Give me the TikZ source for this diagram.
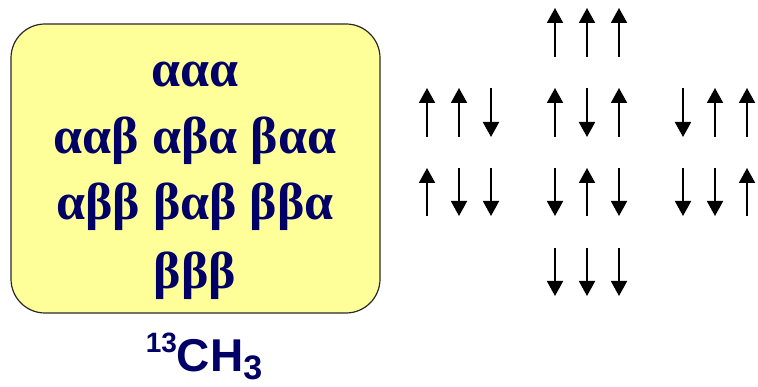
\documentclass[tikz,border=0pt]{standalone}
\usepackage{fontspec}
\setmainfont{Liberation Serif}
\newfontfamily\arialfont{Liberation Sans}
\usetikzlibrary{arrows.meta}
\definecolor{navy}{RGB}{0,0,102}
\definecolor{boxfill}{RGB}{255,255,153}
\definecolor{boxline}{RGB}{40,40,40}
\begin{document}
\begin{tikzpicture}[x=1pt,y=-1pt,
  spin/.style={line width=2pt,-{Triangle[width=16pt,length=15pt]}},
  greek/.style={text=navy,font=\fontsize{52}{52}\selectfont\bfseries,inner sep=0pt,anchor=base},
  statebox/.style={draw=boxline,line width=1.2pt,fill=boxfill,rounded corners=34pt}]
\useasboundingbox (0,0) rectangle (758,387);
\node[statebox,minimum width=369pt,minimum height=289pt,inner sep=0pt] (box) at (195.5,168.5) {};
\node[greek] (l1) at (195,87) {ααα};
\node[greek] (l2) at (195,154) {ααβ αβα βαα};
\node[greek] (l3) at (195,220) {αββ βαβ ββα};
\node[greek] (l4) at (195,289) {βββ};
\node[text=navy,font=\arialfont\bfseries\fontsize{46}{46}\selectfont,inner sep=0pt,anchor=base] (ch3) at (204,371)
  {\raisebox{18pt}{\fontsize{28}{28}\selectfont 13}CH\raisebox{-8pt}{\fontsize{34}{34}\selectfont 3}};
% spin arrows: top and bottom y of each row
\foreach \name/\x/\ytop/\ybot/\dir in {
  a1/555/8/57/u, a2/587/8/57/u, a3/619/8/57/u,
  b1/427/88/137/u, b2/459/88/137/u, b3/491/88/137/d,
  b4/555/88/137/u, b5/587/88/137/d, b6/619/88/137/u,
  b7/683/88/137/d, b8/715/88/137/u, b9/747/88/137/u,
  c1/427/168/216/u, c2/459/168/216/d, c3/491/168/216/d,
  c4/555/168/216/d, c5/587/168/216/u, c6/619/168/216/d,
  c7/683/168/216/d, c8/715/168/216/d, c9/747/168/216/u,
  d1/555/248/296/d, d2/587/248/296/d, d3/619/248/296/d}{
  \coordinate (\name t) at (\x,\ytop);
  \coordinate (\name b) at (\x,\ybot);
  \if\dir u
    \draw[spin] (\name b) -- (\name t);
  \else
    \draw[spin] (\name t) -- (\name b);
  \fi
}
\end{tikzpicture}
\end{document}
